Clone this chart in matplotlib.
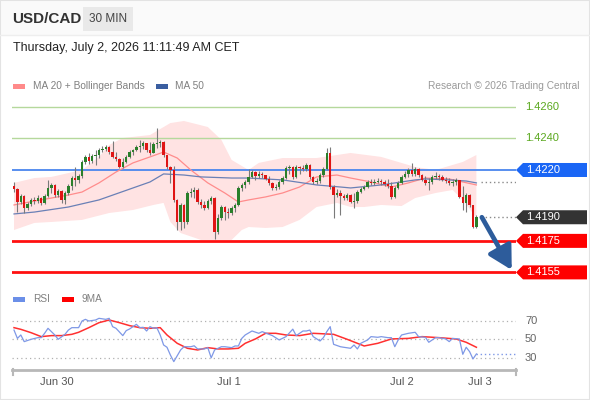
import matplotlib
matplotlib.use("Agg")
import matplotlib.pyplot as plt
import matplotlib.transforms as mtrans
from matplotlib.patches import Polygon, Rectangle
from matplotlib.lines import Line2D
import numpy as np

plt.rcParams['font.family'] = ['Liberation Sans', 'DejaVu Sans']

# ---- data (30 min candles) ----
first_open = 1.42098
closes = [
    1.42079, 1.41997, 1.42035, 1.41959, 1.41984, 1.42010, 1.42003, 1.42022, 1.41991, 1.42035,
    1.42086, 1.42105, 1.42041, 1.42067, 1.42010, 1.42054, 1.42098, 1.42149, 1.42137, 1.42162,
    1.42251, 1.42283, 1.42257, 1.42289, 1.42295, 1.42327, 1.42333, 1.42346, 1.42314, 1.42283,
    1.42270, 1.42219, 1.42251, 1.42283, 1.42314,
    1.42327, 1.42346, 1.42352, 1.42371, 1.42327, 1.42308, 1.42365, 1.42371, 1.42378, 1.42295,
    1.42219, 1.42200, 1.42010, 1.41870, 1.41978, 1.41870, 1.42054, 1.42060, 1.42073, 1.41997,
    1.41978, 1.41959, 1.42003, 1.42022, 1.41806, 1.41895, 1.41965, 1.41933, 1.41927, 1.41959,
    1.41978, 1.42086, 1.42105, 1.42124, 1.42156,
    1.42187, 1.42162, 1.42175, 1.42168, 1.42143, 1.42118, 1.42086, 1.42092, 1.42124, 1.42149,
    1.42213, 1.42219, 1.42156, 1.42219, 1.42213, 1.42206, 1.42232, 1.42156, 1.42124, 1.42130,
    1.42168, 1.42206, 1.42308, 1.42092, 1.42041, 1.42054, 1.42035, 1.42022, 1.42041, 1.41997,
    1.42003, 1.42060, 1.42079, 1.42092, 1.42124,
    1.42118, 1.42124, 1.42130, 1.42124, 1.42111, 1.42098, 1.42029, 1.42086, 1.42118, 1.42156,
    1.42175, 1.42200, 1.42175, 1.42206, 1.42168, 1.42137, 1.42118, 1.42124, 1.42156, 1.42162,
    1.42156, 1.42137, 1.42130, 1.42118, 1.42124, 1.42137, 1.42029, 1.41991, 1.42041, 1.41978,
    1.41838, 1.41900]
highs = [
    1.42124, 1.42086, 1.42048, 1.42041, 1.41997, 1.42022, 1.42029, 1.42041, 1.42029, 1.42048,
    1.42137, 1.42118, 1.42111, 1.42079, 1.42073, 1.42067, 1.42111, 1.42162, 1.42219, 1.42175,
    1.42264, 1.42295, 1.42308, 1.42302, 1.42327, 1.42340, 1.42352, 1.42359, 1.42352, 1.42384,
    1.42314, 1.42276, 1.42276, 1.42295, 1.42327,
    1.42333, 1.42359, 1.42391, 1.42384, 1.42371, 1.42378, 1.42378, 1.42467, 1.42391, 1.42384,
    1.42295, 1.42225, 1.42225, 1.42016, 1.41991, 1.41984, 1.42067, 1.42086, 1.42092, 1.42086,
    1.42016, 1.42003, 1.42016, 1.42035, 1.42029, 1.41921, 1.41978, 1.41971, 1.41959, 1.41971,
    1.41991, 1.42098, 1.42118, 1.42137, 1.42206,
    1.42200, 1.42194, 1.42194, 1.42187, 1.42168, 1.42162, 1.42124, 1.42111, 1.42137, 1.42162,
    1.42225, 1.42232, 1.42225, 1.42232, 1.42225, 1.42232, 1.42245, 1.42238, 1.42162, 1.42149,
    1.42181, 1.42219, 1.42340, 1.42346, 1.42105, 1.42079, 1.42073, 1.42048, 1.42054, 1.42048,
    1.42054, 1.42073, 1.42092, 1.42105, 1.42137,
    1.42143, 1.42143, 1.42149, 1.42143, 1.42137, 1.42143, 1.42124, 1.42098, 1.42130, 1.42168,
    1.42194, 1.42213, 1.42245, 1.42219, 1.42213, 1.42175, 1.42162, 1.42149, 1.42168, 1.42187,
    1.42175, 1.42168, 1.42156, 1.42149, 1.42143, 1.42149, 1.42130, 1.42098, 1.42054, 1.42048,
    1.41971, 1.41914]
lows = [
    1.42060, 1.41933, 1.41984, 1.41927, 1.41946, 1.41971, 1.41984, 1.41991, 1.41978, 1.41984,
    1.42029, 1.42054, 1.42029, 1.42029, 1.41991, 1.41984, 1.42041, 1.42073, 1.42098, 1.42118,
    1.42149, 1.42238, 1.42238, 1.42245, 1.42232, 1.42276, 1.42314, 1.42321, 1.42302, 1.42276,
    1.42257, 1.42213, 1.42213, 1.42245, 1.42276,
    1.42295, 1.42321, 1.42314, 1.42333, 1.42314, 1.42295, 1.42308, 1.42340, 1.42346, 1.42283,
    1.42206, 1.42118, 1.41997, 1.41819, 1.41819, 1.41832, 1.41857, 1.42029, 1.42022, 1.41984,
    1.41959, 1.41946, 1.41952, 1.41984, 1.41762, 1.41794, 1.41883, 1.41883, 1.41895, 1.41914,
    1.41933, 1.41971, 1.42067, 1.42086, 1.42111,
    1.42149, 1.42137, 1.42149, 1.42149, 1.42137, 1.42105, 1.42073, 1.42073, 1.42079, 1.42111,
    1.42143, 1.42175, 1.42143, 1.42149, 1.42175, 1.42194, 1.42194, 1.42143, 1.42111, 1.42111,
    1.42118, 1.42156, 1.42200, 1.42079, 1.41895, 1.42029, 1.41914, 1.42010, 1.42010, 1.41991,
    1.41959, 1.41991, 1.42054, 1.42073, 1.42086,
    1.42105, 1.42105, 1.42118, 1.42105, 1.42098, 1.42086, 1.42016, 1.42022, 1.42079, 1.42111,
    1.42149, 1.42156, 1.42162, 1.42162, 1.42156, 1.42130, 1.42105, 1.42073, 1.42111, 1.42143,
    1.42137, 1.42130, 1.42118, 1.42105, 1.42098, 1.42105, 1.42022, 1.41946, 1.41933, 1.41965,
    1.41832, 1.41832]

# moving averages and bands (candle index, price)
ma50_idx = [0, 6, 16, 25, 35, 40, 44, 50, 55, 64, 69, 79, 89, 96, 99, 108, 118, 121, 128, 133, 136]
ma50_val = [1.41921, 1.41933, 1.41965, 1.42010, 1.42086, 1.42124, 1.42175, 1.42168, 1.42156, 1.42149,
            1.42149, 1.42137, 1.42105, 1.42092, 1.42086, 1.42105, 1.42137, 1.42143, 1.42137, 1.42130, 1.42118]
ma20_idx = [0, 6, 16, 20, 25, 30, 35, 40, 44, 48, 52, 57, 62, 66, 69, 74, 79, 84, 89, 95, 99, 105,
            111, 116, 121, 128, 136]
ma20_val = [1.41978, 1.42003, 1.42041, 1.42060, 1.42118, 1.42187, 1.42245, 1.42283, 1.42314, 1.42276,
            1.42200, 1.42118, 1.42054, 1.41997, 1.42010, 1.42029, 1.42054, 1.42092, 1.42156, 1.42168,
            1.42149, 1.42124, 1.42092, 1.42118, 1.42149, 1.42143, 1.42105]
bb_up_idx = [0, 6, 11, 20, 25, 28, 32, 40, 46, 50, 57, 61, 64, 69, 72, 79, 89, 99, 108, 118, 124, 132, 136]
bb_up_val = [1.42118, 1.42149, 1.42156, 1.42200, 1.42283, 1.42359, 1.42403, 1.42422, 1.42498, 1.42511,
             1.42473, 1.42391, 1.42264, 1.42200, 1.42245, 1.42276, 1.42276, 1.42308, 1.42283, 1.42219,
             1.42200, 1.42251, 1.42295]
bb_lo_idx = [0, 6, 11, 20, 28, 35, 41, 44, 46, 49, 55, 64, 67, 69, 74, 79, 84, 89, 95, 99, 103, 108,
             114, 118, 124, 129, 132, 136]
bb_lo_val = [1.41819, 1.41864, 1.41870, 1.41883, 1.41927, 1.41946, 1.41978, 1.41991, 1.41870, 1.41800,
             1.41756, 1.41756, 1.41819, 1.41838, 1.41832, 1.41838, 1.41883, 1.41965, 1.41991, 1.41965,
             1.41965, 1.41978, 1.41971, 1.42022, 1.42054, 1.42073, 1.42010, 1.41895]

# RSI panel
rsi_idx = [0, 1, 2, 3, 5, 7, 8, 9, 10, 12, 13, 15, 16, 17, 19, 20, 21, 22, 24, 25, 27, 28, 29, 30,
           32, 33, 34, 36, 37, 38, 39, 40, 41, 42, 43, 44, 45, 46, 47, 49, 50, 52, 53, 54, 56, 57,
           58, 59, 61, 62, 64, 65, 66, 67, 68, 70, 72, 73, 75, 76, 78, 80, 82, 83, 84, 85, 86, 87,
           88, 90, 91, 92, 93, 94, 96, 97, 99, 100, 101, 102, 104, 105, 107, 108, 110, 111, 112,
           113, 114, 116, 118, 119, 121, 122, 124, 125, 127, 128, 129, 131, 132, 133, 134, 135, 136]
rsi_val = [60, 51, 54.7, 47.5, 50, 51.8, 51.8, 56.5, 61.9, 54.7, 50, 55.4, 60, 62.6, 62.6, 69.8, 71.6,
           69.8, 70.9, 72.7, 71.6, 72.7, 63.7, 61.9, 54, 59.4, 61.2, 66.2, 62.6, 63, 59, 63.7, 61.9,
           62.6, 54.7, 43.9, 41.4, 33, 25.9, 38.5, 42, 42, 43, 39.6, 39.6, 41, 30, 38.5, 42, 42, 41,
           42.8, 42.8, 51, 54.7, 59, 56.5, 58.3, 55.4, 54, 49.3, 52.9, 61, 54, 56.5, 59, 59, 60, 52.9,
           48.2, 51.8, 58.3, 63.7, 44.6, 42, 41.4, 40.3, 43.9, 39.6, 45.7, 49.3, 52.9, 52.2, 52.9,
           51.8, 51.8, 42, 49.3, 54.7, 56.5, 57.6, 52.9, 52.2, 46.8, 51.8, 51.8, 50.4, 47.5, 51,
           50.4, 33.8, 41.4, 36.7, 28.8, 34.2]
rsi_ma_idx = [0, 2, 5, 8, 11, 14, 17, 19, 22, 25, 28, 31, 34, 37, 40, 43, 45, 48, 51, 54, 57, 60,
              63, 66, 68, 71, 74, 77, 80, 84, 88, 94, 98, 103, 107, 111, 116, 120, 125, 130, 133, 136]
rsi_ma_val = [62.6, 60.8, 57.2, 52.9, 54, 54, 55.4, 57.6, 62.6, 68, 70.9, 68, 64.8, 62.6, 61.9, 62.6,
              54.7, 45.7, 40.3, 38.5, 41, 39.6, 39.6, 40.3, 45.7, 50.4, 56.5, 56.5, 54.7, 54, 56.5,
              55.4, 50, 42.8, 45.7, 50.4, 51, 52.9, 51.8, 50.4, 46.8, 41.4]

green_levels = [1.4260, 1.4240]
pivot = 1.4220
last_price = 1.4190
supports = [1.4175, 1.4155]
ma_last = 1.42122
target = 1.41565

tick_pos = [12.6, 63.2, 114.1, 137.1]
tick_labels = ['Jun 30', 'Jul 1', 'Jul 2', 'Jul 3']

# ---- figure ----
W, H = 590, 400
fig = plt.figure(figsize=(W / 100, H / 100), dpi=100)
fig.patch.set_facecolor('white')


def fx(px):
    return px / W


def fy(py):
    return 1 - py / H


# header
fig.add_artist(Rectangle((0, fy(35)), 1, 35 / H, transform=fig.transFigure,
                         facecolor='#fafafa', edgecolor='none'))
fig.add_artist(Line2D([0, 1], [fy(35), fy(35)], color='#eeeeee', lw=1))
fig.add_artist(Rectangle((fx(83), fy(31)), fx(133) - fx(83), 24 / H, transform=fig.transFigure,
                         facecolor='#e9e9e9', edgecolor='none'))
fig.text(fx(12), fy(19), 'USD/CAD', fontsize=11, fontweight='bold', color='#333333', va='center')
fig.text(fx(108), fy(19), '30 MIN', fontsize=8.5, color='#444444', va='center', ha='center')
fig.text(fx(13), fy(48), 'Thursday, July 2, 2026 11:11:49 AM CET', fontsize=9,
         color='#222222', va='center')

# legends
fig.add_artist(Rectangle((fx(13), fy(88.5)), 12 / W, 5 / H, transform=fig.transFigure,
                         facecolor='#ff8a8a', edgecolor='none'))
fig.text(fx(33), fy(86), 'MA 20 + Bollinger Bands', fontsize=7.3, color='#808080', va='center')
fig.add_artist(Rectangle((fx(156), fy(88.5)), 12 / W, 5 / H, transform=fig.transFigure,
                         facecolor='#3a5ea0', edgecolor='none'))
fig.text(fx(175), fy(86), 'MA 50', fontsize=7.3, color='#808080', va='center')
fig.text(fx(580), fy(86), 'Research \u00a9 2026 Trading Central', fontsize=7.3, color='#9a9a9a',
         va='center', ha='right')

fig.add_artist(Rectangle((fx(13), fy(301.5)), 12 / W, 5 / H, transform=fig.transFigure,
                         facecolor='#6b8fe8', edgecolor='none'))
fig.text(fx(33), fy(299), 'RSI', fontsize=7.3, color='#808080', va='center')
fig.add_artist(Rectangle((fx(62), fy(301.5)), 12 / W, 5 / H, transform=fig.transFigure,
                         facecolor='#ff0000', edgecolor='none'))
fig.text(fx(82), fy(299), '9MA', fontsize=7.3, color='#808080', va='center')

# ---- price panel ----
xmin, xmax = -0.59, 147.65
ax = fig.add_axes([fx(12), fy(282), fx(516) - fx(12), fy(95) - fy(282)])
ax.set_xlim(xmin, xmax)
ax.set_ylim(1.41489, 1.42676)
ax.axis('off')

bx = np.r_[bb_up_idx, bb_lo_idx[::-1]]
by = np.r_[bb_up_val, bb_lo_val[::-1]]
ax.fill(bx, by, color='#ffe3e3', lw=0, zorder=1)
ax.plot(ma20_idx, ma20_val, color='#ff8c8c', lw=0.9, zorder=2)
ax.plot(ma50_idx, ma50_val, color='#6a80b6', lw=0.9, zorder=2)

for lv in green_levels:
    ax.axhline(lv, color='#b5d89c', lw=1, zorder=1.5)
ax.axhline(pivot, color='#4a86ee', lw=1.3, zorder=1.5)
for lv in supports:
    ax.axhline(lv, color='#ff1010', lw=2, zorder=1.5)

c = np.array(closes)
o = np.r_[first_open, c[:-1]]
hi = np.maximum(np.array(highs), np.maximum(o, c))
lo = np.minimum(np.array(lows), np.minimum(o, c))
xi = np.arange(len(c))
up = c >= o
ax.vlines(xi, lo, hi, color='#7a7a7a', lw=0.8, zorder=3)
body = np.where(np.abs(c - o) < 0.00007, np.where(up, 0.00007, -0.00007), c - o)
ax.bar(xi, body, bottom=o, width=0.72, color=np.where(up, '#2a7f2a', '#e01414'),
       edgecolor='none', zorder=4)

dot = (0, (1, 2))
ax.plot([len(c) + 0.5, xmax], [ma_last, ma_last], ls=dot, color='#8a8a8a', lw=1, zorder=2)
ax.plot([len(c) + 0.5, xmax], [last_price, last_price], ls=dot, color='#8a8a8a', lw=1, zorder=2)

ax.annotate('', xy=(146.4, target), xytext=(len(c) + 0.6, last_price),
            arrowprops=dict(arrowstyle='-|>,head_length=1.0,head_width=0.55', color='#2d5c9b',
                            lw=3.4, shrinkA=0, shrinkB=0, mutation_scale=14),
            annotation_clip=False, zorder=6)

trans = mtrans.blended_transform_factory(fig.transFigure, ax.transData)
for lv in green_levels:
    ax.text(fx(525), lv, f'{lv:.4f}', transform=trans, color='#5aa81e', fontsize=8,
            va='center', clip_on=False)

dy = 7 * 0.0000635
tags = [(pivot, '#1a66f5'), (last_price, '#333333'), (supports[0], '#ff0000'), (supports[1], '#ff0000')]
for lv, col in tags:
    pts = [(fx(516), lv), (fx(523), lv + dy), (fx(587), lv + dy), (fx(587), lv - dy), (fx(523), lv - dy)]
    ax.add_patch(Polygon(pts, closed=True, transform=trans, facecolor=col, edgecolor='none',
                         clip_on=False))
    ax.text(fx(526), lv, f'{lv:.4f}', transform=trans, color='white', fontsize=8,
            va='center', clip_on=False)

# ---- RSI panel ----
rax = fig.add_axes([fx(12), fy(368), fx(516) - fx(12), fy(305) - fy(368)])
rax.set_xlim(xmin, xmax)
rax.set_ylim(19.0, 87.1)
rax.axis('off')
for lv in [30, 50, 70]:
    rax.axhline(lv, color='#b0b0b0', ls=(0, (1, 2.5)), lw=0.9)
rtrans = mtrans.blended_transform_factory(fig.transFigure, rax.transData)
for lv in [70, 50, 30]:
    rax.text(fx(525), lv, str(lv), transform=rtrans, color='#666666', fontsize=8,
             va='center', clip_on=False)
rax.plot(rsi_idx, rsi_val, color='#7e98e6', lw=0.9, zorder=3)
rax.plot(rsi_ma_idx, rsi_ma_val, color='#ff3030', lw=1.1, zorder=2)
rax.plot([rsi_idx[-1], xmax], [rsi_val[-1]] * 2, ls=dot, color='#7e98e6', lw=1)

# time axis
fig.add_artist(Line2D([fx(12), fx(516)], [fy(370), fy(370)], color='#b8b8b8', lw=2))
fig.add_artist(Line2D([fx(12.5), fx(12.5)], [fy(369), fy(375)], color='#b8b8b8', lw=1.5))
fig.add_artist(Line2D([fx(515.5), fx(515.5)], [fy(369), fy(375)], color='#b8b8b8', lw=1.5))
ttrans = mtrans.blended_transform_factory(rax.transData, fig.transFigure)
for p, lab in zip(tick_pos, tick_labels):
    rax.text(p, fy(382), lab, transform=ttrans, ha='center', va='center', fontsize=8,
             color='#555555', clip_on=False)

fig.add_artist(Rectangle((0, 0), 1, 1, transform=fig.transFigure, fill=False,
                         edgecolor='#e3e3e3', lw=1.5))

fig.savefig('out.png', dpi=100)
